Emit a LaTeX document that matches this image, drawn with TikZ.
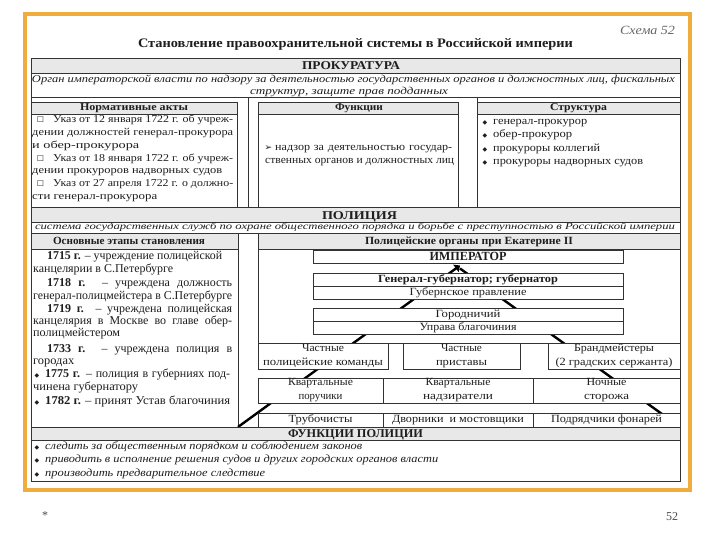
\documentclass[tikz,border=0pt]{standalone}
\usepackage{fontspec}
\usepackage{graphicx}
\setmainfont{Liberation Serif}
\newfontfamily\symf{DejaVu Sans}
\usetikzlibrary{arrows.meta}
\newsavebox\fitbox
\newlength\fitlen
\newcommand\fitw[2]{\sbox\fitbox{#2}\setlength\fitlen{\wd\fitbox}\pgfmathsetmacro\fitr{#1/\fitlen}\scalebox{\fitr}[1]{\usebox\fitbox}}
\newcommand\jws[3]{\pgfmathsetmacro\jwt{#1/#2}\sbox\fitbox{#3}\ifdim\wd\fitbox<\jwt pt\relax\scalebox{#2}[1]{\makebox[\jwt pt][s]{#3}}\else\fitw{#1}{#3}\fi}
\newcommand\fA{\fontsize{10.5}{12}\selectfont}
\newcommand\fB{\fontsize{11}{13}\selectfont}
\newcommand\fC{\fontsize{12}{13}\selectfont}
\newcommand\fH{\fontsize{12}{14}\selectfont}
\definecolor{frameor}{RGB}{240,172,60}
\definecolor{hdrgray}{RGB}{232,232,232}
\definecolor{txt}{RGB}{30,30,30}
\begin{document}
\begin{tikzpicture}[x=1pt,y=-1pt,
 ln/.style={draw=black!80, line width=0.8pt},
 hdr/.style={fill=hdrgray, draw=black!80, line width=0.8pt},
 tx/.style={inner sep=0pt, anchor=mid west, text=txt, font=\fB},
 tc/.style={inner sep=0pt, anchor=mid, text=txt, font=\fB},
 capc/.style={inner sep=0pt, anchor=base, text=txt, font=\fH\bfseries},
 sym/.style={inner sep=0pt, anchor=mid, text=txt, font=\symf\fontsize{6}{7}\selectfont},
 cbx/.style={inner sep=0pt, anchor=mid, text=txt, font=\symf\fontsize{8}{9}\selectfont},
 obox/.style={draw=black!80, line width=0.8pt, fill=white, inner sep=0pt, text=txt, font=\fontsize{11}{14}\selectfont, align=center},
 diag/.style={draw=black, line width=2.4pt},
]
\fill[white] (0,0) rectangle (720,540);
\useasboundingbox (0,0) rectangle (720,540);
\draw[draw=frameor, line width=3.5pt] (25,14) rectangle (690,490);

% title
\node[tc, font=\fontsize{13}{15}\selectfont\bfseries] (title) at (355.5,45) {\fitw{435}{Становление правоохранительной системы в Российской империи}};
\node[tc, font=\fontsize{12.5}{15}\selectfont\itshape, text=black!60] (schema) at (647.5,32) {\fitw{55}{Схема 52}};

% ---------- Prokuratura ----------
\filldraw[hdr] (31,58) rectangle (680,73);
\draw[ln] (31,97) -- (680,97);
\draw[ln] (248,97) -- (248,207);
\filldraw[hdr] (31,102) rectangle (237,114);
\draw[ln] (31,102) rectangle (237,207);
\filldraw[hdr] (258,102) rectangle (458,114);
\draw[ln] (258,102) rectangle (458,207);
\filldraw[hdr] (477,102) rectangle (680,114);
\draw[ln] (477,97) -- (477,207);

\node[capc] (prok) at (351,70) {\fitw{98}{ПРОКУРАТУРА}};
\node[tc, font=\fA\itshape] (pd1) at (353.5,80) {\fitw{643}{Орган императорской власти по надзору за деятельностью государственных органов и должностных лиц, фискальных}};
\node[tc, font=\fA\itshape] (pd2) at (349,92) {\fitw{198}{структур, защите прав подданных}};

\node[tc, font=\fA\bfseries] (hna) at (134,108) {\fitw{108}{Нормативные акты}};
\node[tc, font=\fA\bfseries] (hfn) at (359,108) {\fitw{48}{Функции}};
\node[tc, font=\fA\bfseries] (hst) at (578.5,108) {\fitw{57}{Структура}};

\node[cbx] (cb1) at (40.5,120.5) {☐};
\node[tx, font=\fA] (na1) at (53,120.5) {\jws{180}{1.3}{Указ от 12 января 1722 г. об учреж-}};
\node[tx, font=\fA] (na2) at (32,133.3) {\jws{201}{1.3}{дении должностей генерал-прокурора}};
\node[tx, font=\fA] (na3) at (32,146) {\fitw{107}{и обер-прокурора}};
\node[cbx] (cb2) at (40.5,158.8) {☐};
\node[tx, font=\fA] (na4) at (53,158.8) {\jws{180}{1.3}{Указ от 18 января 1722 г. об учреж-}};
\node[tx, font=\fA] (na5) at (32,171.6) {\fitw{190}{дении прокуроров надворных судов}};
\node[cbx] (cb3) at (40.5,184.4) {☐};
\node[tx, font=\fA] (na6) at (53,184.4) {\jws{180}{1.3}{Указ от 27 апреля 1722 г. о должно-}};
\node[tx, font=\fA] (na7) at (32,197.2) {\fitw{125}{сти генерал-прокурора}};

\node[cbx, font=\symf\fontsize{9}{10}\selectfont] (ar1) at (268.5,148) {➢};
\node[tx] (fn1) at (275,148) {\jws{177}{1.1}{надзор за деятельностью государ-}};
\node[tx] (fn2) at (265,161) {\fitw{189}{ственных органов и должностных лиц}};

\node[sym] (sb1) at (485,122) {◆};
\node[tx] (st1) at (493,122) {\fitw{94}{генерал-прокурор}};
\node[sym] (sb2) at (485,135.5) {◆};
\node[tx] (st2) at (493,135.5) {\fitw{79}{обер-прокурор}};
\node[sym] (sb3) at (485,149) {◆};
\node[tx] (st3) at (493,149) {\fitw{107}{прокуроры коллегий}};
\node[sym] (sb4) at (485,162.5) {◆};
\node[tx] (st4) at (493,162.5) {\fitw{150}{прокуроры надворных судов}};

% ---------- Police ----------
\filldraw[hdr] (31,207) rectangle (680,222);
\draw[ln] (31,233) -- (680,233);
\node[capc] (pol) at (359.5,219) {\fitw{75}{ПОЛИЦИЯ}};
\node[tc, font=\fontsize{9.5}{11}\selectfont\itshape] (poldesc) at (355,227.5) {\fitw{640}{система государственных служб по охране общественного порядка и борьбе с преступностью в Российской империи}};

\filldraw[hdr] (31,233) rectangle (238,249);
\draw[ln] (31,233) rectangle (238,427);
\filldraw[fill=white, draw=black!80, line width=0.8pt] (258,233) rectangle (680,343);
\filldraw[hdr] (258,233) rectangle (680,249);
\node[tc, font=\fB\bfseries] (hos) at (129,242) {\fitw{152}{Основные этапы становления}};
\node[tc, font=\fB\bfseries] (hpo) at (469,242) {\fitw{208}{Полицейские органы при Екатерине II}};

\node[tx, font=\fC] (e1) at (47,257) {\fitw{175}{{\bfseries 1715 г.} – учреждение полицейской}};
\node[tx, font=\fC] (e2) at (33,270) {\fitw{140}{канцелярии в С.Петербурге}};
\node[tx, font=\fC] (e3) at (47,284) {\jws{185}{1}{{\bfseries 1718 г.} – учреждена должность}};
\node[tx, font=\fC] (e4) at (33,297) {\fitw{199}{генерал-полицмейстера в С.Петербурге}};
\node[tx, font=\fC] (e5) at (47,310) {\jws{185}{1}{{\bfseries 1719 г.} – учреждена полицейская}};
\node[tx, font=\fC] (e6) at (33,322) {\jws{199}{1}{канцелярия в Москве во главе обер-}};
\node[tx, font=\fC] (e7) at (33,334) {\fitw{87}{полицмейстером}};
\node[tx, font=\fC] (e8) at (47,350) {\jws{185}{1}{{\bfseries 1733 г.} – учреждена полиция в}};
\node[tx, font=\fC] (e9) at (33,362) {\fitw{41}{городах}};
\node[sym] (eb1) at (37,375) {◆};
\node[tx, font=\fC] (e10) at (45,375) {\jws{185}{1}{{\bfseries 1775 г.} – полиция в губерниях под-}};
\node[tx, font=\fC] (e11) at (33,388) {\fitw{105}{чинена губернатору}};
\node[sym] (eb2) at (37,402) {◆};
\node[tx, font=\fC] (e12) at (45,402) {\fitw{185}{{\bfseries 1782 г.} – принят Устав благочиния}};

% diagonal connectors
\coordinate (apex) at (460,265.5);
\coordinate (apexb) at (460,268.5);
\coordinate (bl) at (238,427);
\coordinate (br) at (680,427);
\draw[diag, -{Triangle[width=9pt,length=5pt]}] (bl) -- (apex);
\draw[diag] (apexb) -- (br);

% org chart boxes
\node[obox, minimum width=310pt, minimum height=13pt, font=\fontsize{12.5}{14}\selectfont\bfseries] (imp) at (468,256.5) {\fitw{77}{ИМПЕРАТОР}};
\node[obox, minimum width=310pt, minimum height=13pt, font=\fB\bfseries] (gg1) at (468,279.5) {\fitw{180}{Генерал-губернатор; губернатор}};
\node[obox, minimum width=310pt, minimum height=13pt] (gg2) at (468,292.5) {\fitw{117}{Губернское правление}};
\node[obox, minimum width=310pt, minimum height=13pt] (gr1) at (468,314.5) {\fitw{65}{Городничий}};
\node[obox, minimum width=310pt, minimum height=13pt] (gr2) at (468,327.5) {\fitw{97}{Управа благочиния}};

\node[obox, minimum width=130pt, minimum height=26pt] (cp) at (323,356) {\fitw{42}{Частные}\\\fitw{120}{полицейские команды}};
\node[obox, minimum width=117pt, minimum height=26pt] (cpr) at (461.5,356) {\fitw{41}{Частные}\\\fitw{51}{приставы}};
\node[obox, minimum width=132pt, minimum height=26pt] (brm) at (614,356) {\fitw{80}{Брандмейстеры}\\\fitw{117}{(2 градских сержанта)}};

\node[obox, minimum width=125pt, minimum height=25pt] (kp) at (320.5,390.5) {\fitw{65}{Квартальные}\\\fitw{44}{поручики}};
\node[obox, minimum width=150pt, minimum height=25pt] (kn) at (458,390.5) {\fitw{65}{Квартальные}\\\fitw{70}{надзиратели}};
\node[obox, minimum width=147pt, minimum height=25pt] (ns) at (606.5,390.5) {\fitw{40}{Ночные}\\\fitw{45}{сторожа}};

\node[obox, minimum width=125pt, minimum height=14pt] (tr) at (320.5,420) {\fitw{64}{Трубочисты}};
\node[obox, minimum width=150pt, minimum height=14pt] (dm) at (458,420) {\fitw{132}{Дворники\ \ и мостовщики}};
\node[obox, minimum width=147pt, minimum height=14pt] (pf) at (606.5,420) {\fitw{111}{Подрядчики фонарей}};

% ---------- Functions of police ----------
\filldraw[hdr] (31,427) rectangle (680,440);
\node[capc] (hfp) at (355.5,437.5) {\fitw{135}{ФУНКЦИИ ПОЛИЦИИ}};
\node[sym] (fb1) at (37,447) {◆};
\node[tx, font=\fB\itshape] (fp1) at (45,447) {\fitw{317}{следить за общественным порядком и соблюдением законов}};
\node[sym] (fb2) at (37,460.5) {◆};
\node[tx, font=\fB\itshape] (fp2) at (45,460.5) {\fitw{393}{приводить в исполнение решения судов и других городских органов власти}};
\node[sym] (fb3) at (37,474) {◆};
\node[tx, font=\fB\itshape] (fp3) at (45,474) {\fitw{220}{производить предварительное следствие}};

\draw[ln] (31,58) rectangle (680,481);

% footer
\node[tc, font=\fontsize{12}{14}\selectfont, text=black!70] (star) at (45,517) {*};
\node[tc, font=\fontsize{12}{14}\selectfont, text=black!70] (pnum) at (672,518) {52};
\end{tikzpicture}
\end{document}
